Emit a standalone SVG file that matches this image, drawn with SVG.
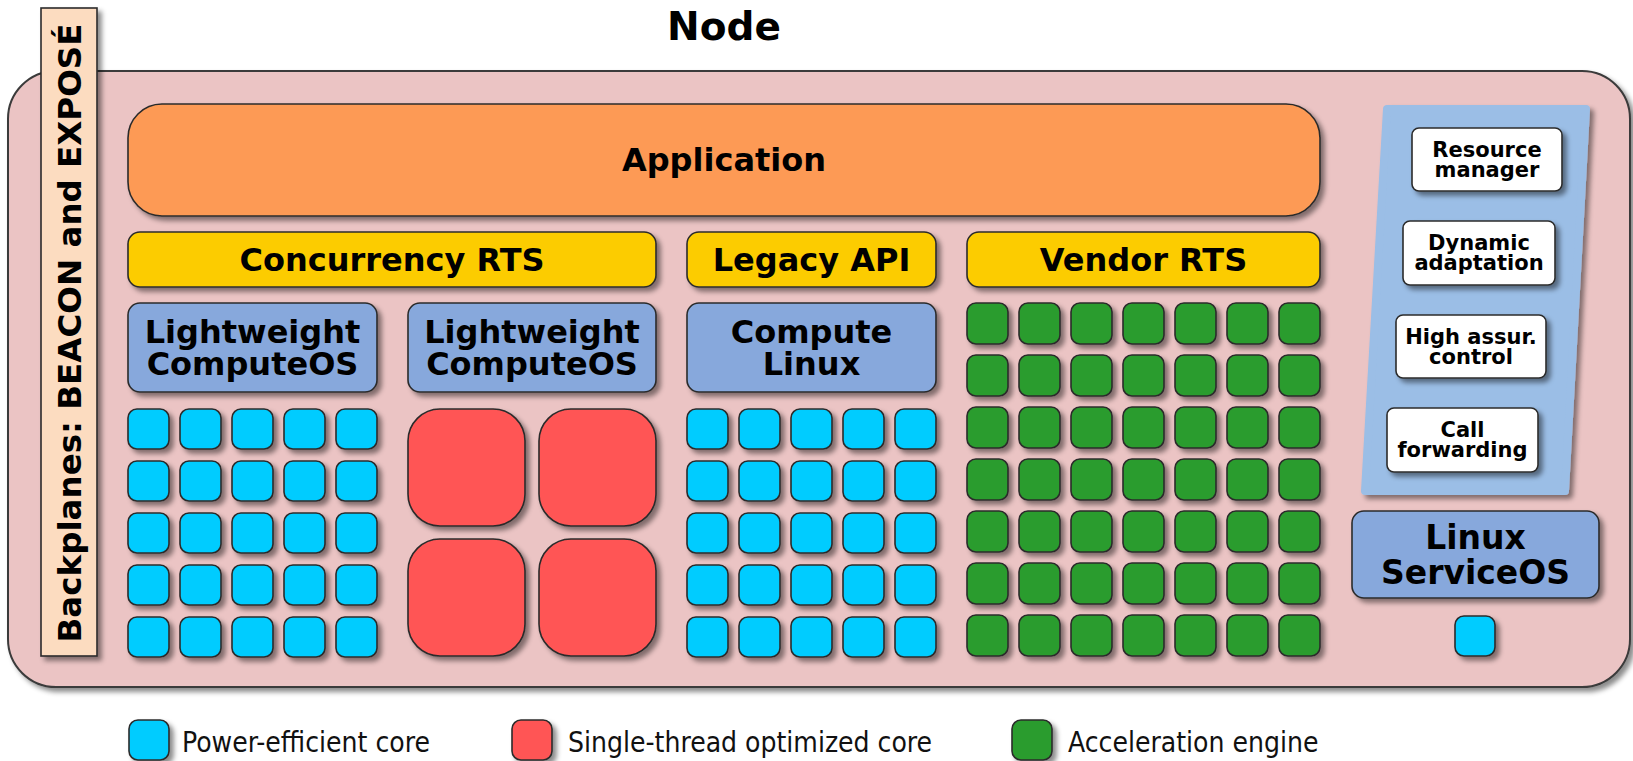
<svg xmlns="http://www.w3.org/2000/svg" width="1633" height="761" viewBox="0 0 1633 761">
<defs>
<filter id="sh" x="-20%" y="-20%" width="150%" height="150%">
<feDropShadow dx="4" dy="4" stdDeviation="2.5" flood-color="#000" flood-opacity="0.45"/>
</filter>
<style>
.s{stroke:#2b2b2b;stroke-width:1.6;filter:url(#sh)}
.main{fill:#ebc4c4;stroke:#3a3a3a;stroke-width:2}
.bp{fill:#fcdcc0}
.app{fill:#fd9a55}
.rts{fill:#fccc00}
.os{fill:#87a8dc}
.wb{fill:#ffffff}
.pc{fill:#00ccff}
.sc{fill:#ff5555}
.ae{fill:#2a9c2e}
.t{font-family:"DejaVu Sans",Verdana,sans-serif;font-weight:bold;fill:#000;text-anchor:middle}
.lg{font-family:"DejaVu Sans Condensed","DejaVu Sans",sans-serif;font-size:28px;fill:#111}
</style>
</defs>
<rect width="1633" height="761" fill="#ffffff"/>
<g id="title"><text class="t" x="724" y="40" font-size="39">Node</text></g>
<g id="node"><rect class="main s" x="8" y="71" width="1622" height="616" rx="48"/></g>
<g id="backplanes">
<rect class="bp s" x="41" y="8" width="56" height="648"/>
<text class="t" font-size="32.5" transform="translate(81,333) rotate(-90)">Backplanes: BEACON and EXPOSÉ</text>
</g>
<g id="application">
<rect class="app s" x="128" y="104" width="1192" height="112" rx="34"/>
<text class="t" x="724" y="171" font-size="32">Application</text>
</g>
<g id="concurrency-rts">
<rect class="rts s" x="128" y="232" width="528" height="55" rx="12"/>
<text class="t" x="392" y="271" font-size="32">Concurrency RTS</text>
</g>
<g id="legacy-api">
<rect class="rts s" x="687" y="232" width="249" height="55" rx="12"/>
<text class="t" x="811.5" y="271" font-size="32">Legacy API</text>
</g>
<g id="vendor-rts">
<rect class="rts s" x="967" y="232" width="353" height="55" rx="12"/>
<text class="t" x="1143.5" y="271" font-size="32">Vendor RTS</text>
</g>
<g id="lw-computeos-1">
<rect class="os s" x="128" y="303" width="249" height="89" rx="12"/>
<text class="t" x="252.5" y="343" font-size="32">Lightweight</text>
<text class="t" x="252.5" y="375" font-size="32">ComputeOS</text>
</g>
<g id="lw-computeos-2">
<rect class="os s" x="408" y="303" width="248" height="89" rx="12"/>
<text class="t" x="532" y="343" font-size="32">Lightweight</text>
<text class="t" x="532" y="375" font-size="32">ComputeOS</text>
</g>
<g id="compute-linux">
<rect class="os s" x="687" y="303" width="249" height="89" rx="12"/>
<text class="t" x="811.5" y="343" font-size="32">Compute</text>
<text class="t" x="811.5" y="375" font-size="32">Linux</text>
</g>
<g id="service-panel">
<path d="M1387,109 L1586,109 L1565,491 L1365,491 Z" fill="#9bbee6" stroke="#9bbee6" stroke-width="8" stroke-linejoin="round" filter="url(#sh)"/>
</g>
<g id="resource-manager">
<rect class="wb s" x="1412" y="128" width="150" height="63" rx="7"/>
<text class="t" x="1487" y="157" font-size="21">Resource</text>
<text class="t" x="1487" y="177" font-size="21">manager</text>
</g>
<g id="dynamic-adaptation">
<rect class="wb s" x="1403" y="221" width="152" height="64" rx="7"/>
<text class="t" x="1479" y="250" font-size="21">Dynamic</text>
<text class="t" x="1479" y="270" font-size="21">adaptation</text>
</g>
<g id="high-assur-control">
<rect class="wb s" x="1396" y="315" width="150" height="63" rx="7"/>
<text class="t" x="1471" y="344" font-size="21">High assur.</text>
<text class="t" x="1471" y="364" font-size="21">control</text>
</g>
<g id="call-forwarding">
<rect class="wb s" x="1387" y="408" width="151" height="64" rx="7"/>
<text class="t" x="1462.5" y="437" font-size="21">Call</text>
<text class="t" x="1462.5" y="457" font-size="21">forwarding</text>
</g>
<g id="linux-serviceos">
<rect class="os s" x="1352" y="511" width="247" height="87" rx="12"/>
<text class="t" x="1475.5" y="549" font-size="33">Linux</text>
<text class="t" x="1475.5" y="584" font-size="33">ServiceOS</text>
</g>
<g id="service-core"><rect class="pc s" x="1455" y="616" width="40" height="40" rx="9"/></g>
<g id="cores-lw1">
<rect class="pc s" x="128" y="409" width="41" height="40" rx="9"/><rect class="pc s" x="180" y="409" width="41" height="40" rx="9"/><rect class="pc s" x="232" y="409" width="41" height="40" rx="9"/><rect class="pc s" x="284" y="409" width="41" height="40" rx="9"/><rect class="pc s" x="336" y="409" width="41" height="40" rx="9"/>
<rect class="pc s" x="128" y="461" width="41" height="40" rx="9"/><rect class="pc s" x="180" y="461" width="41" height="40" rx="9"/><rect class="pc s" x="232" y="461" width="41" height="40" rx="9"/><rect class="pc s" x="284" y="461" width="41" height="40" rx="9"/><rect class="pc s" x="336" y="461" width="41" height="40" rx="9"/>
<rect class="pc s" x="128" y="513" width="41" height="40" rx="9"/><rect class="pc s" x="180" y="513" width="41" height="40" rx="9"/><rect class="pc s" x="232" y="513" width="41" height="40" rx="9"/><rect class="pc s" x="284" y="513" width="41" height="40" rx="9"/><rect class="pc s" x="336" y="513" width="41" height="40" rx="9"/>
<rect class="pc s" x="128" y="565" width="41" height="40" rx="9"/><rect class="pc s" x="180" y="565" width="41" height="40" rx="9"/><rect class="pc s" x="232" y="565" width="41" height="40" rx="9"/><rect class="pc s" x="284" y="565" width="41" height="40" rx="9"/><rect class="pc s" x="336" y="565" width="41" height="40" rx="9"/>
<rect class="pc s" x="128" y="617" width="41" height="40" rx="9"/><rect class="pc s" x="180" y="617" width="41" height="40" rx="9"/><rect class="pc s" x="232" y="617" width="41" height="40" rx="9"/><rect class="pc s" x="284" y="617" width="41" height="40" rx="9"/><rect class="pc s" x="336" y="617" width="41" height="40" rx="9"/>
</g>
<g id="cores-lw2">
<rect class="sc s" x="408" y="409" width="117" height="117" rx="32"/><rect class="sc s" x="539" y="409" width="117" height="117" rx="32"/>
<rect class="sc s" x="408" y="539" width="117" height="117" rx="32"/><rect class="sc s" x="539" y="539" width="117" height="117" rx="32"/>
</g>
<g id="cores-linux">
<rect class="pc s" x="687" y="409" width="41" height="40" rx="9"/><rect class="pc s" x="739" y="409" width="41" height="40" rx="9"/><rect class="pc s" x="791" y="409" width="41" height="40" rx="9"/><rect class="pc s" x="843" y="409" width="41" height="40" rx="9"/><rect class="pc s" x="895" y="409" width="41" height="40" rx="9"/>
<rect class="pc s" x="687" y="461" width="41" height="40" rx="9"/><rect class="pc s" x="739" y="461" width="41" height="40" rx="9"/><rect class="pc s" x="791" y="461" width="41" height="40" rx="9"/><rect class="pc s" x="843" y="461" width="41" height="40" rx="9"/><rect class="pc s" x="895" y="461" width="41" height="40" rx="9"/>
<rect class="pc s" x="687" y="513" width="41" height="40" rx="9"/><rect class="pc s" x="739" y="513" width="41" height="40" rx="9"/><rect class="pc s" x="791" y="513" width="41" height="40" rx="9"/><rect class="pc s" x="843" y="513" width="41" height="40" rx="9"/><rect class="pc s" x="895" y="513" width="41" height="40" rx="9"/>
<rect class="pc s" x="687" y="565" width="41" height="40" rx="9"/><rect class="pc s" x="739" y="565" width="41" height="40" rx="9"/><rect class="pc s" x="791" y="565" width="41" height="40" rx="9"/><rect class="pc s" x="843" y="565" width="41" height="40" rx="9"/><rect class="pc s" x="895" y="565" width="41" height="40" rx="9"/>
<rect class="pc s" x="687" y="617" width="41" height="40" rx="9"/><rect class="pc s" x="739" y="617" width="41" height="40" rx="9"/><rect class="pc s" x="791" y="617" width="41" height="40" rx="9"/><rect class="pc s" x="843" y="617" width="41" height="40" rx="9"/><rect class="pc s" x="895" y="617" width="41" height="40" rx="9"/>
</g>
<g id="accel-engines">
<rect class="ae s" x="967" y="303" width="41" height="41" rx="9"/><rect class="ae s" x="1019" y="303" width="41" height="41" rx="9"/><rect class="ae s" x="1071" y="303" width="41" height="41" rx="9"/><rect class="ae s" x="1123" y="303" width="41" height="41" rx="9"/><rect class="ae s" x="1175" y="303" width="41" height="41" rx="9"/><rect class="ae s" x="1227" y="303" width="41" height="41" rx="9"/><rect class="ae s" x="1279" y="303" width="41" height="41" rx="9"/>
<rect class="ae s" x="967" y="355" width="41" height="41" rx="9"/><rect class="ae s" x="1019" y="355" width="41" height="41" rx="9"/><rect class="ae s" x="1071" y="355" width="41" height="41" rx="9"/><rect class="ae s" x="1123" y="355" width="41" height="41" rx="9"/><rect class="ae s" x="1175" y="355" width="41" height="41" rx="9"/><rect class="ae s" x="1227" y="355" width="41" height="41" rx="9"/><rect class="ae s" x="1279" y="355" width="41" height="41" rx="9"/>
<rect class="ae s" x="967" y="407" width="41" height="41" rx="9"/><rect class="ae s" x="1019" y="407" width="41" height="41" rx="9"/><rect class="ae s" x="1071" y="407" width="41" height="41" rx="9"/><rect class="ae s" x="1123" y="407" width="41" height="41" rx="9"/><rect class="ae s" x="1175" y="407" width="41" height="41" rx="9"/><rect class="ae s" x="1227" y="407" width="41" height="41" rx="9"/><rect class="ae s" x="1279" y="407" width="41" height="41" rx="9"/>
<rect class="ae s" x="967" y="459" width="41" height="41" rx="9"/><rect class="ae s" x="1019" y="459" width="41" height="41" rx="9"/><rect class="ae s" x="1071" y="459" width="41" height="41" rx="9"/><rect class="ae s" x="1123" y="459" width="41" height="41" rx="9"/><rect class="ae s" x="1175" y="459" width="41" height="41" rx="9"/><rect class="ae s" x="1227" y="459" width="41" height="41" rx="9"/><rect class="ae s" x="1279" y="459" width="41" height="41" rx="9"/>
<rect class="ae s" x="967" y="511" width="41" height="41" rx="9"/><rect class="ae s" x="1019" y="511" width="41" height="41" rx="9"/><rect class="ae s" x="1071" y="511" width="41" height="41" rx="9"/><rect class="ae s" x="1123" y="511" width="41" height="41" rx="9"/><rect class="ae s" x="1175" y="511" width="41" height="41" rx="9"/><rect class="ae s" x="1227" y="511" width="41" height="41" rx="9"/><rect class="ae s" x="1279" y="511" width="41" height="41" rx="9"/>
<rect class="ae s" x="967" y="563" width="41" height="41" rx="9"/><rect class="ae s" x="1019" y="563" width="41" height="41" rx="9"/><rect class="ae s" x="1071" y="563" width="41" height="41" rx="9"/><rect class="ae s" x="1123" y="563" width="41" height="41" rx="9"/><rect class="ae s" x="1175" y="563" width="41" height="41" rx="9"/><rect class="ae s" x="1227" y="563" width="41" height="41" rx="9"/><rect class="ae s" x="1279" y="563" width="41" height="41" rx="9"/>
<rect class="ae s" x="967" y="615" width="41" height="41" rx="9"/><rect class="ae s" x="1019" y="615" width="41" height="41" rx="9"/><rect class="ae s" x="1071" y="615" width="41" height="41" rx="9"/><rect class="ae s" x="1123" y="615" width="41" height="41" rx="9"/><rect class="ae s" x="1175" y="615" width="41" height="41" rx="9"/><rect class="ae s" x="1227" y="615" width="41" height="41" rx="9"/><rect class="ae s" x="1279" y="615" width="41" height="41" rx="9"/>
</g>
<g id="connectors"></g>
<g id="legend">
<g id="legend-power"><rect class="pc s" x="129" y="720" width="40" height="40" rx="9"/><text class="lg" x="182" y="752">Power-efficient core</text></g>
<g id="legend-single"><rect class="sc s" x="512" y="720" width="40" height="40" rx="9"/><text class="lg" x="568" y="752">Single-thread optimized core</text></g>
<g id="legend-accel"><rect class="ae s" x="1012" y="720" width="40" height="40" rx="9"/><text class="lg" x="1068" y="752">Acceleration engine</text></g>
</g>
</svg>
